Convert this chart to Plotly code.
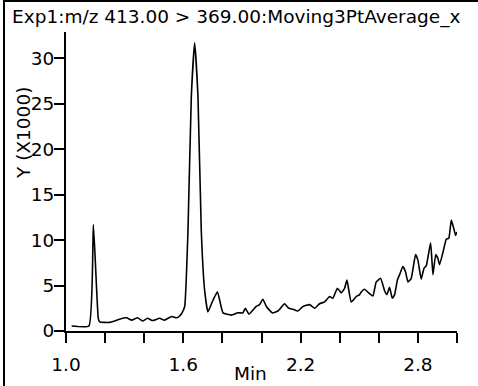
import plotly.graph_objects as go

# Chromatogram trace (time in min, intensity in thousands)
time_min = [1.029, 1.117, 1.140, 1.165, 1.172, 1.223, 1.249, 1.274, 1.310, 1.336, 1.366,
            1.392, 1.417, 1.443, 1.479, 1.504, 1.540, 1.566, 1.581, 1.591, 1.607, 1.624,
            1.641, 1.658, 1.675, 1.692, 1.709, 1.726, 1.750, 1.775, 1.803, 1.846, 1.879,
            1.905, 1.917, 1.936, 1.973, 1.990, 2.007, 2.025, 2.055, 2.084, 2.118, 2.140,
            2.161, 2.186, 2.212, 2.246, 2.272, 2.297, 2.323, 2.348, 2.365, 2.388, 2.408,
            2.425, 2.437, 2.459, 2.485, 2.502, 2.510, 2.527, 2.553, 2.570, 2.587, 2.609,
            2.630, 2.641, 2.655, 2.669, 2.681, 2.695, 2.710, 2.723, 2.737, 2.749, 2.766,
            2.788, 2.800, 2.817, 2.831, 2.843, 2.865, 2.877, 2.891, 2.902, 2.911, 2.931,
            2.945, 2.958, 2.971, 2.982, 2.993, 2.999]
intensity_k = [0.55, 0.55, 11.7, 1.4, 1.0, 0.95, 1.1, 1.3, 1.45, 1.2, 1.45,
               1.1, 1.4, 1.15, 1.4, 1.2, 1.6, 1.45, 1.65, 1.9, 2.7, 11.1,
               25.8, 31.7, 25.8, 11.0, 4.5, 2.1, 3.3, 4.3, 2.0, 1.75, 2.0,
               2.0, 2.5, 1.85, 2.7, 2.9, 3.5, 2.7, 2.0, 2.2, 3.0, 2.5,
               2.4, 2.2, 2.7, 2.9, 2.5, 3.0, 3.2, 3.8, 3.6, 4.7, 4.2,
               4.7, 5.6, 3.2, 3.8, 4.0, 4.3, 4.6, 4.1, 3.85, 5.4, 5.8,
               4.4, 4.0, 4.8, 3.6, 4.0, 5.6, 6.4, 7.1, 6.5, 5.4, 5.8,
               8.4, 7.8, 5.7, 6.9, 7.2, 9.7, 6.2, 8.4, 8.0, 7.3, 8.9,
               10.1, 10.2, 12.2, 11.4, 10.5, 10.9]

x_tick_vals = [1.0, 1.2, 1.4, 1.6, 1.8, 2.0, 2.2, 2.4, 2.6, 2.8, 3.0]
x_tick_text = ["1.0", "", "", "1.6", "", "", "2.2", "", "", "2.8", ""]
y_tick_vals = [0, 5, 10, 15, 20, 25, 30]
y_tick_text = ["0", "5", "10", "15", "20", "25", "30"]

title_text = "Exp1:m/z 413.00 > 369.00:Moving3PtAverage_x"
y_title = "Y (X1000)"
x_title = "Min"

FONT = "DejaVu Sans"
FS = 18.5
W, H = 478, 386
L, R, T, B = 66, 21, 32, 55
PW, PH = W - L - R, H - T - B

def px(x):
    return (x - L) / PW

def py(y):
    return (H - B - y) / PH

fig = go.Figure()
fig.add_trace(go.Scatter(x=time_min, y=intensity_k, mode="lines",
                         line=dict(color="black", width=1.6, shape="spline", smoothing=0.4),
                         hoverinfo="skip"))

axis_common = dict(showgrid=False, zeroline=False, showline=True, linecolor="black",
                   linewidth=2, ticks="outside", ticklen=10, tickwidth=2, tickcolor="black",
                   automargin=False, tickfont=dict(family=FONT, size=FS, color="black"))

fig.update_layout(
    template="none",
    width=W, height=H,
    margin=dict(l=L, r=R, t=T, b=B, pad=0),
    paper_bgcolor="white", plot_bgcolor="white",
    showlegend=False,
    font=dict(family=FONT, size=FS, color="black"),
    xaxis=dict(range=[1.0, 3.0], tickvals=x_tick_vals, ticktext=x_tick_text,
               ticklabelstandoff=6, **axis_common),
    yaxis=dict(range=[0, 32.9], tickvals=y_tick_vals, ticktext=y_tick_text,
               ticklabelstandoff=-4, **axis_common),
    shapes=[dict(type="rect", xref="paper", yref="paper",
                 x0=px(4), x1=px(490), y0=py(1), y1=py(400),
                 line=dict(color="black", width=2), fillcolor="rgba(0,0,0,0)", layer="above")],
    annotations=[
        dict(text=title_text, xref="paper", yref="paper", x=px(10), y=py(4),
             xanchor="left", yanchor="top", showarrow=False,
             font=dict(family=FONT, size=FS, color="black")),
        dict(text=y_title, xref="paper", yref="paper", x=px(23), y=py(133),
             xanchor="center", yanchor="middle", textangle=-90, showarrow=False,
             font=dict(family=FONT, size=FS, color="black")),
        dict(text=x_title, xref="paper", yref="paper", x=px(250), y=py(386),
             xanchor="center", yanchor="bottom", showarrow=False,
             font=dict(family=FONT, size=FS, color="black")),
    ],
)

fig.write_html("out.html", config={"displayModeBar": False},
               post_script="document.body.style.margin='0px';")
